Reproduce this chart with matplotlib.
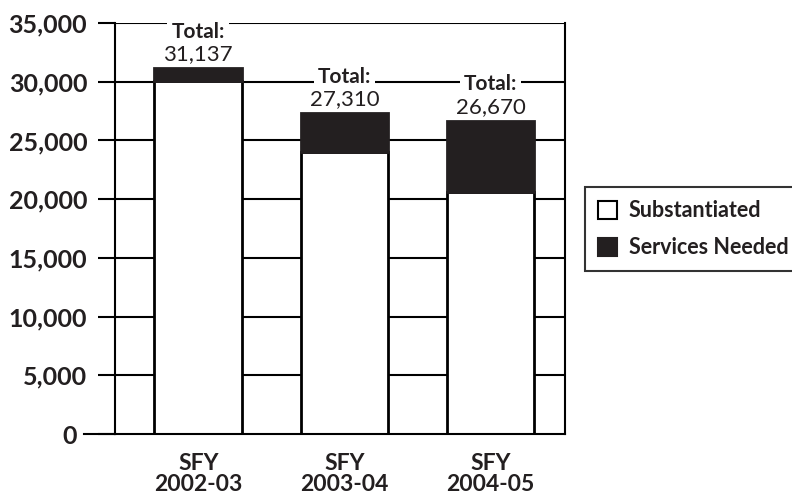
import matplotlib.pyplot as plt
import matplotlib.transforms as mtransforms
import numpy as np

years = ["SFY\n2002-03", "SFY\n2003-04", "SFY\n2004-05"]
substantiated = [30050, 24050, 20600]
totals = [31137, 27310, 26670]
services_needed = [t - s for t, s in zip(totals, substantiated)]
yticks = [0, 5000, 10000, 15000, 20000, 25000, 30000, 35000]

plt.rcParams['font.family'] = ['Lato', 'DejaVu Sans']
ink = "#231f20"

fig = plt.figure(figsize=(7.92, 4.97), dpi=100)
ax = fig.add_axes([115 / 792, 1 - 434 / 497, 450 / 792, 411 / 497])

x = np.arange(len(years))
width = 0.6

# grid lines behind the bars
for yv in yticks[1:]:
    ax.axhline(yv, color="black", lw=1.5, zorder=0)

ax.bar(x, substantiated, width, color="white", edgecolor="black",
       lw=2, zorder=2, label="Substantiated")
ax.bar(x, services_needed, width, bottom=substantiated, color=ink,
       edgecolor=ink, lw=2, zorder=2, label="Services Needed")

for xi, t in zip(x, totals):
    ax.text(xi, t + 350, "{:,}".format(t), ha="center", va="bottom",
            fontsize=16, color=ink, zorder=4,
            bbox=dict(facecolor="white", edgecolor="none", pad=1))
    ax.text(xi, t + 2250, "Total:", ha="center", va="bottom",
            fontsize=15, fontweight="bold", color=ink, zorder=4,
            bbox=dict(facecolor="white", edgecolor="none", pad=3))

ax.set_xlim(-0.57, 2.51)
ax.set_ylim(0, 35000)
ax.set_yticks(yticks)
ax.set_yticklabels(["{:,}".format(v) for v in yticks], fontsize=18,
                   fontweight="bold", color=ink)
ax.set_xticks(x)
ax.set_xticklabels(years, fontsize=16.5, fontweight="bold", color=ink,
                   linespacing=0.95)
ax.tick_params(axis="x", length=0, pad=14)
ax.tick_params(axis="y", length=12, width=1.5, pad=8)

# the zero label sits a bit further left
zero_lab = ax.get_yticklabels()[0]
zero_lab.set_transform(zero_lab.get_transform() +
                       mtransforms.ScaledTranslation(-10 / 100, 0, fig.dpi_scale_trans))

for side in ["left", "right", "bottom"]:
    ax.spines[side].set_linewidth(1.5)
ax.spines["top"].set_visible(False)
# longer line at zero
ax.plot([-0.78, -0.57], [0, 0], color="black", lw=1.5, clip_on=False)

leg = ax.legend(loc="upper left", bbox_to_anchor=(1.044, 0.60), fontsize=15.5,
                frameon=True, fancybox=False, edgecolor="black",
                borderpad=0.6, labelspacing=0.75, handlelength=0.9,
                handleheight=0.9, handletextpad=0.55, borderaxespad=0)
leg.get_frame().set_linewidth(1.5)
for t in leg.get_texts():
    t.set_fontweight("bold")
    t.set_color(ink)
for h in leg.legend_handles:
    h.set_linewidth(1.5)

fig.savefig("out.png", dpi=100)
